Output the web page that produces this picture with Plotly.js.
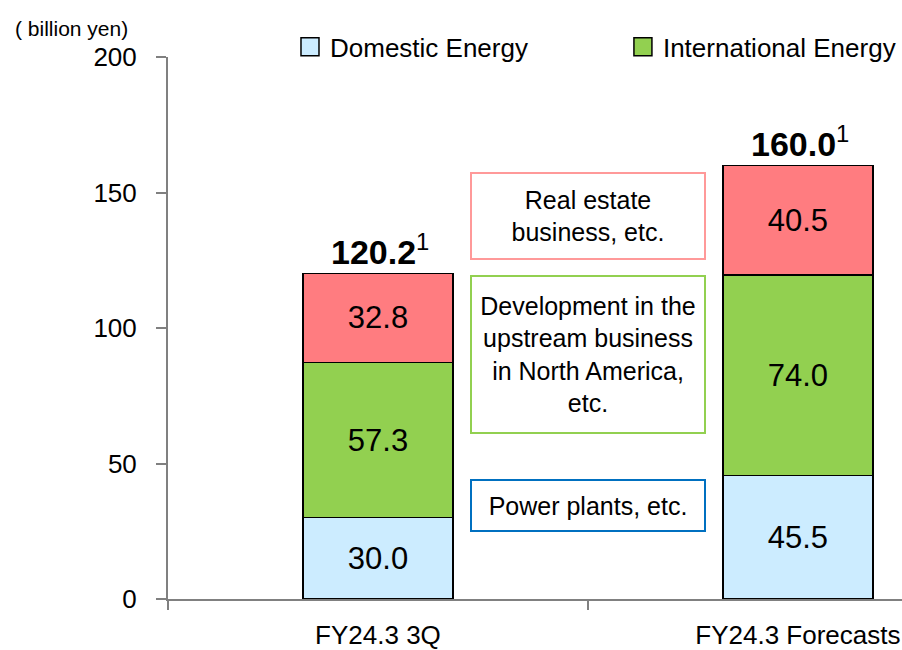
<!DOCTYPE html>
<html>
<head>
<meta charset="utf-8">
<script src="https://cdn.plot.ly/plotly-3.0.1.min.js"></script>
<style>html,body{margin:0;padding:0;background:#fff;}#chart{width:902px;height:650px;}</style>
</head>
<body>
<div id="chart"></div>
<script>
var categories = ["FY24.3 3Q", "FY24.3 Forecasts"];
var domestic = [30.0, 45.5];
var international = [57.3, 74.0];
var realEstate = [32.8, 40.5];
var totals = [120.2, 160.0];
var seriesNames = ["Domestic Energy", "International Energy", "Real estate, etc."];
var boxTexts = ["Real estate<br>business, etc.", "Development in the<br>upstream business<br>in North America,<br>etc.", "Power plants, etc."];
var yTicks = [0, 50, 100, 150, 200];

var FONT = "Liberation Sans, Arial, sans-serif";
var lineStyle = {color: "#000000", width: 1.5};

function barTrace(vals, name, color, legendId, showlegend) {
  return {
    type: "bar", x: categories, y: vals, name: name,
    marker: {color: color, line: lineStyle},
    text: vals.map(function(v){ return v.toFixed(1); }),
    textposition: "inside", insidetextanchor: "middle", textangle: 0,
    constraintext: "none",
    textfont: {family: FONT, size: 31, color: "#000000"},
    legend: legendId, showlegend: showlegend, hoverinfo: "skip"
  };
}

var data = [
  barTrace(domestic, seriesNames[0], "#CCECFF", "legend", true),
  barTrace(international, seriesNames[1], "#92D050", "legend2", true),
  barTrace(realEstate, seriesNames[2], "#FF7C80", "legend", false)
];

var annotations = [];
totals.forEach(function(t, i){
  annotations.push({
    x: categories[i], y: t, xref: "x", yref: "y", xanchor: "center", yanchor: "bottom",
    text: "<b>" + t.toFixed(1) + "</b><sup>1</sup>", showarrow: false,
    font: {family: FONT, size: 34, color: "#000000"}, xshift: 2, yshift: 0
  });
});
var boxY = [141.3, 90.2, 34.5];
var boxH = [84, 155, 49];
var boxColors = ["#FF9999", "#92D050", "#0070C0"];
boxTexts.forEach(function(t, i){
  annotations.push({
    x: 0.5, y: boxY[i], xref: "x", yref: "y", xanchor: "center", yanchor: "middle",
    text: t, showarrow: false, width: 232, height: boxH[i],
    bordercolor: boxColors[i], borderwidth: 2, borderpad: 0, bgcolor: "#ffffff",
    font: {family: FONT, size: 25, color: "#000000"}
  });
});
annotations.push({
  x: -0.2112, y: 1.0535, xref: "paper", yref: "paper", xanchor: "left", yanchor: "middle",
  text: "( billion yen)", showarrow: false,
  font: {family: FONT, size: 21, color: "#000000"}
});

var legendBase = {
  orientation: "h", yanchor: "middle", xanchor: "left", y: 1.0185,
  font: {family: FONT, size: 26, color: "#000000"},
  bgcolor: "rgba(0,0,0,0)", borderwidth: 0
};

var layout = {
  width: 902, height: 650,
  margin: {l: 168, r: 0, t: 57, b: 51, pad: 0},
  paper_bgcolor: "#ffffff", plot_bgcolor: "#ffffff",
  barmode: "stack", bargap: 0.643,
  font: {family: FONT, color: "#000000"},
  showlegend: true,
  legend: Object.assign({}, legendBase, {x: 0.1662}),
  legend2: Object.assign({}, legendBase, {x: 0.6198}),
  xaxis: {
    type: "category", range: [-0.5, 1.248], automargin: false,
    showline: true, linecolor: "#808080", linewidth: 2,
    ticks: "outside", tickson: "boundaries", ticklen: 9, tickwidth: 2, tickcolor: "#808080",
    showgrid: false, zeroline: false,
    tickfont: {family: FONT, size: 26, color: "#000000"},
    ticklabelstandoff: 12, fixedrange: true
  },
  yaxis: {
    range: [0, 200], automargin: false,
    tickvals: yTicks, ticktext: yTicks.map(String),
    showline: true, linecolor: "#808080", linewidth: 2,
    ticks: "outside", ticklen: 10, tickwidth: 2, tickcolor: "#808080",
    showgrid: false, zeroline: false,
    tickfont: {family: FONT, size: 26, color: "#000000"},
    ticklabelstandoff: 14, fixedrange: true
  },
  annotations: annotations
};

Plotly.newPlot("chart", data, layout, {staticPlot: true, displayModeBar: false}).then(function(gd){
  // enlarge the legend swatches to match the reference's bigger squares
  gd.querySelectorAll(".legendpoints path").forEach(function(p){
    p.setAttribute("d", "M9,9H-9V-9H9Z");
  });
});
</script>
</body>
</html>
